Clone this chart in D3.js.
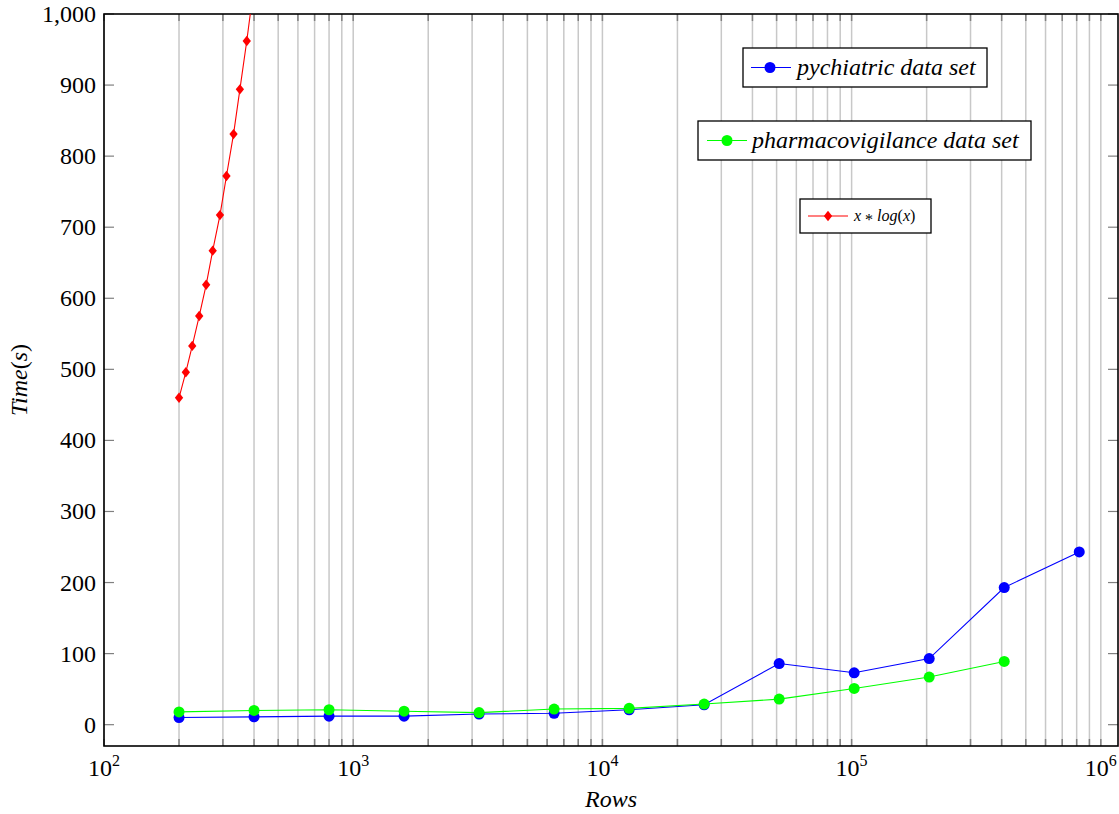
<!DOCTYPE html>
<html>
<head>
<meta charset="utf-8">
<script src="https://cdn.jsdelivr.net/npm/d3@7"></script>
</head>
<body style="margin:0">
<svg id="s" width="1119" height="814" font-family="Liberation Serif"></svg>
<script>
// ---- data ----
const rows = [200, 400, 800, 1600, 3200, 6400, 12800, 25600, 51200, 102400, 204800, 409600, 819200];
const psychiatric = [10, 11, 12, 12, 15, 16, 21, 28, 86, 73, 93, 193, 243];
const pharmaRows = [200, 400, 800, 1600, 3200, 6400, 12800, 25600, 51200, 102400, 204800, 409600];
const pharmacovigilance = [18, 20, 21, 19, 17, 22, 23, 29, 36, 51, 67, 89];
const xlogxRows = [200, 213, 226, 241, 257, 273, 292, 310, 331, 351, 374, 400];
const xlogxTime = [460, 496, 533, 575, 619, 667, 717, 772, 831, 894, 962, 1041];
const yTicks = [0, 100, 200, 300, 400, 500, 600, 700, 800, 900, 1000];
const xMajorExp = [2, 3, 4, 5, 6];
const legendLabels = ["pychiatric data set", "pharmacovigilance data set"];

// ---- layout ----
const FONT = "Liberation Serif";
const L = 104, T = 14, R = 1118, B = 746;
const svg = d3.select("#s");
const x = d3.scaleLog().domain([100, 1.172e6]).range([L, R]);
const y = d3.scaleLinear().domain([-30, 1000]).range([B, T]);

function txt(sel) { return sel.attr("font-family", FONT); }

const gridVals = [];
for (let e = 2; e <= 5; e++) for (let k = 1; k <= 9; k++) gridVals.push(k * Math.pow(10, e));
gridVals.push(1e6);

svg.append("g").selectAll("line").data(gridVals).join("line")
  .attr("x1", d => x(d)).attr("x2", d => x(d))
  .attr("y1", T).attr("y2", B)
  .attr("stroke", "#c8c8c8").attr("stroke-width", 1.5);

const xt = svg.append("g");
xt.selectAll("line.b").data(gridVals).join("line").attr("class", "b")
  .attr("x1", d => x(d)).attr("x2", d => x(d))
  .attr("y1", B).attr("y2", B - 7)
  .attr("stroke", "#808080").attr("stroke-width", 1.5);
xt.selectAll("line.t").data(gridVals).join("line").attr("class", "t")
  .attr("x1", d => x(d)).attr("x2", d => x(d))
  .attr("y1", T).attr("y2", T + 7)
  .attr("stroke", "#808080").attr("stroke-width", 1.5);

const yt = svg.append("g");
yt.selectAll("line.l").data(yTicks).join("line").attr("class", "l")
  .attr("x1", L).attr("x2", L + 10)
  .attr("y1", d => y(d)).attr("y2", d => y(d))
  .attr("stroke", "#808080").attr("stroke-width", 1.2);
yt.selectAll("line.r").data(yTicks).join("line").attr("class", "r")
  .attr("x1", R).attr("x2", R - 10)
  .attr("y1", d => y(d)).attr("y2", d => y(d))
  .attr("stroke", "#808080").attr("stroke-width", 1.2);

yTicks.forEach(d => {
  txt(svg.append("text")).attr("x", L - 8).attr("y", y(d) + 8)
    .attr("text-anchor", "end").attr("font-size", 24)
    .text(d3.format(",")(d));
});

xMajorExp.forEach(d => {
  const t = txt(svg.append("text")).attr("x", x(Math.pow(10, d))).attr("y", 776)
    .attr("text-anchor", "middle").attr("font-size", 24);
  t.append("tspan").text("10");
  t.append("tspan").attr("dy", -10).attr("font-size", 16).text(d);
});

svg.append("rect").attr("x", L).attr("y", T).attr("width", R - L).attr("height", B - T)
  .attr("fill", "none").attr("stroke", "#000").attr("stroke-width", 1.6);

txt(svg.append("text")).attr("x", 611).attr("y", 807).attr("text-anchor", "middle")
  .attr("font-size", 24).attr("font-style", "italic").text("Rows");
const yTitle = txt(svg.append("text")).attr("transform", `translate(27,${(T + B) / 2}) rotate(-90)`)
  .attr("text-anchor", "middle").attr("font-size", 24).attr("font-style", "italic");
yTitle.append("tspan").text("Time");
yTitle.append("tspan").attr("font-style", "normal").text("(");
yTitle.append("tspan").text("s");
yTitle.append("tspan").attr("font-style", "normal").text(")");

svg.append("clipPath").attr("id", "clip").append("rect")
  .attr("x", L).attr("y", T).attr("width", R - L).attr("height", B - T);
const plot = svg.append("g").attr("clip-path", "url(#clip)");

const line = d3.line().x(d => x(d[0])).y(d => y(d[1]));
const diamond = (cx, cy, s) => `M${cx},${cy - s}L${cx + s * 0.8},${cy}L${cx},${cy + s}L${cx - s * 0.8},${cy}Z`;

function drawSeries(xs, ys, color, marker) {
  const pts = xs.map((v, i) => [v, ys[i]]);
  plot.append("path").datum(pts).attr("d", line)
    .attr("fill", "none").attr("stroke", color).attr("stroke-width", 1.1);
  if (marker === "circle") {
    plot.append("g").selectAll("circle").data(pts).join("circle")
      .attr("cx", d => x(d[0])).attr("cy", d => y(d[1])).attr("r", 5.5)
      .attr("fill", color);
  } else {
    plot.append("g").selectAll("path").data(pts).join("path")
      .attr("d", d => diamond(x(d[0]), y(d[1]), 5.2))
      .attr("fill", color);
  }
}
drawSeries(rows, psychiatric, "#0000ff", "circle");
drawSeries(pharmaRows, pharmacovigilance, "#00ff00", "circle");
drawSeries(xlogxRows, xlogxTime, "#ff0000", "diamond");

function legendBox(x0, y0, w, h, color, marker, lineX1, lineX2, mx, textX, fontSize, buildText) {
  const cy = y0 + h / 2;
  svg.append("rect").attr("x", x0).attr("y", y0).attr("width", w).attr("height", h)
    .attr("fill", "#fff").attr("stroke", "#000").attr("stroke-width", 1.3);
  svg.append("line").attr("x1", lineX1).attr("x2", lineX2).attr("y1", cy).attr("y2", cy)
    .attr("stroke", color).attr("stroke-width", 1.1);
  if (marker === "circle") svg.append("circle").attr("cx", mx).attr("cy", cy).attr("r", 5.5).attr("fill", color);
  else svg.append("path").attr("d", diamond(mx, cy, 5.2)).attr("fill", color);
  const t = txt(svg.append("text")).attr("x", textX).attr("y", cy + fontSize * 0.3)
    .attr("font-size", fontSize).attr("font-style", "italic");
  buildText(t);
}
legendBox(743, 48, 244, 39, "#0000ff", "circle", 751, 791, 770, 797, 24, t => t.text(legendLabels[0]));
legendBox(698, 121, 333, 39, "#00ff00", "circle", 707, 747, 727, 752, 24, t => t.text(legendLabels[1]));
legendBox(800, 199, 131, 34, "#ff0000", "diamond", 808, 848, 828, 854, 16, t => {
  t.append("tspan").text("x ");
  t.append("tspan").attr("font-style", "normal").attr("dy", 4).text("*");
  t.append("tspan").attr("dy", -4).text(" log");
  t.append("tspan").attr("font-style", "normal").text("(");
  t.append("tspan").text("x");
  t.append("tspan").attr("font-style", "normal").text(")");
});
</script>
</body>
</html>
